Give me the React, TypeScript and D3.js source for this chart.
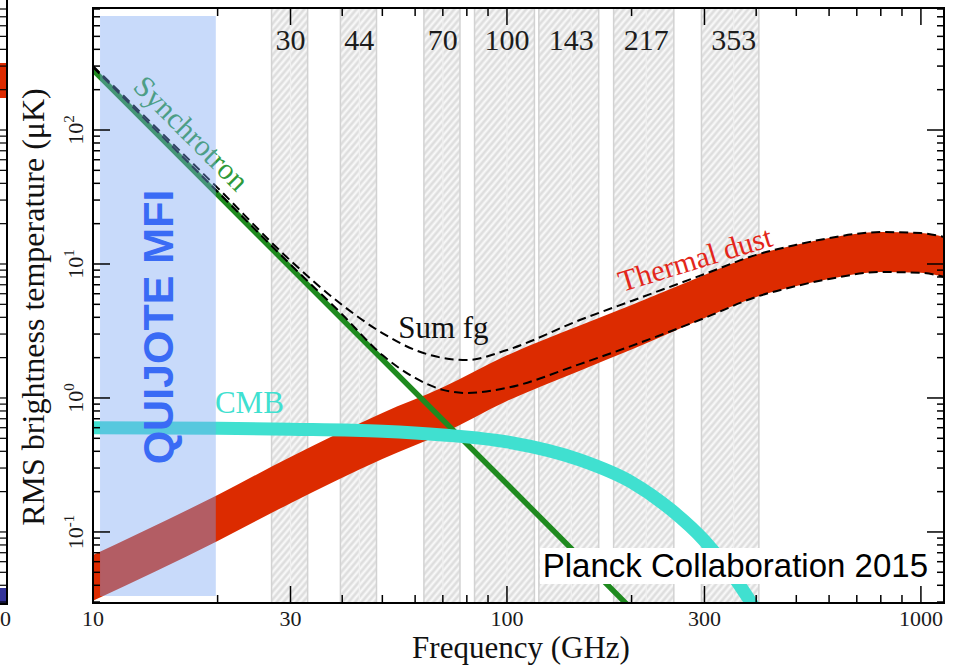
import React from 'react';
import * as d3 from 'd3';

// Planck frequency bands (GHz): centre and band edges
const planckCentres = [30, 44, 70, 100, 143, 217, 353];
const planckLow = [27, 39.6, 63, 83.5, 119.4, 181, 295];
const planckHigh = [33, 48.4, 77, 116.5, 166.6, 253, 406];

// QUIJOTE MFI frequency coverage (GHz)
const quijoteBand = [10.4, 19.8];

// RMS brightness temperature (uK)
const synchFreq = [10, 20, 30, 100, 200];
const synchT = [281, 33, 9.4, 0.228, 0.0266];

const cmbFreq = [10, 20, 30, 50, 70, 100, 150, 200, 250, 300, 350, 400];
const cmbT = [0.6, 0.595, 0.585, 0.565, 0.53, 0.47, 0.345, 0.235, 0.145, 0.086, 0.048, 0.026];

const dustFreq = [10, 20, 30, 50, 70, 100, 150, 200, 300, 400, 500, 600, 800, 1000, 1140];
const dustHigh = [0.0673, 0.189, 0.363, 0.773, 1.2, 2.08, 3.48, 4.94, 8.28, 11.7, 13.9, 15.6, 17.3, 17.0, 15.9];
const dustLow = [0.0306, 0.0857, 0.164, 0.35, 0.545, 0.95, 1.6, 2.3, 3.95, 5.68, 6.85, 7.73, 8.71, 8.6, 8.0];

const sumFreq = [10, 20, 30, 40, 50, 60, 70, 80, 100, 150, 200, 300, 400, 500, 600, 800, 1000, 1140];
const sumHigh = [300, 37, 10.6, 4.94, 3.05, 2.28, 1.99, 1.92, 2.28, 3.82, 5.3, 8.4, 11.7, 13.9, 15.6, 17.3, 17.0, 15.9];
const sumLow = [295, 34.6, 9.9, 4.2, 2.09, 1.41, 1.15, 1.09, 1.19, 1.79, 2.45, 3.95, 5.68, 6.85, 7.73, 8.71, 8.6, 8.0];

// axis labels
const freqLabels = [10, 30, 100, 300, 1000];
const tempExponents = [-1, 0, 1, 2];

const W = 954;
const H = 667;
const frame = { left: 93, right: 944, top: 8, bottom: 603 };
const serif = '"Liberation Serif", "Times New Roman", serif';
const sans = '"Liberation Sans", Arial, Helvetica, sans-serif';

const isDecade = (t: number) => Math.abs(Math.log10(t) - Math.round(Math.log10(t))) < 1e-6;

export default function App() {
  const x = d3.scaleLog().domain([10, 1137]).range([frame.left, frame.right]);
  const y = d3.scaleLog().domain([0.0295, 814]).range([frame.bottom, frame.top]);

  const xt = x.ticks();
  const yt = y.ticks();

  const pts = (fs: number[], vs: number[]) => fs.map((f, i) => [f, vs[i]] as [number, number]);

  const straight = d3.line<[number, number]>().x(d => x(d[0])).y(d => y(d[1]));
  const smooth = d3.line<[number, number]>().x(d => x(d[0])).y(d => y(d[1])).curve(d3.curveMonotoneX);
  const dustArea = d3.area<number>()
    .x(i => x(dustFreq[i]))
    .y0(i => y(dustLow[i]))
    .y1(i => y(dustHigh[i]))
    .curve(d3.curveMonotoneX)(dustFreq.map((_, i) => i));

  const synchAngle = Math.atan2(y(synchT[1]) - y(synchT[0]), x(synchFreq[1]) - x(synchFreq[0])) * 180 / Math.PI;

  return (
    <svg width={W} height={H} style={{ position: 'absolute', left: 0, top: 0, background: '#fff' }}>
      <defs>
        <pattern id="hatch" patternUnits="userSpaceOnUse" width={5} height={10} patternTransform="rotate(40)">
          <rect width={5} height={10} fill="#dedede" />
          <line x1={1.5} y1={0} x2={1.5} y2={10} stroke="#fafafa" strokeWidth={2.2} />
        </pattern>
        <clipPath id="plot">
          <rect x={frame.left} y={frame.top} width={frame.right - frame.left} height={frame.bottom - frame.top} />
        </clipPath>
      </defs>

      {/* piece of the neighbouring panel at the left edge */}
      <g>
        <rect x={0} y={63} width={7} height={35} fill="#dd2a00" />
        <rect x={0} y={588} width={7} height={17} fill="#333399" />
        {yt.map((t, i) => (
          <line key={i} x1={0} x2={7} y1={y(t)} y2={y(t)} stroke="#000" strokeWidth={1.2} />
        ))}
        <line x1={7} x2={7} y1={0} y2={605} stroke="#000" strokeWidth={2} />
        <line x1={0} x2={7} y1={604} y2={604} stroke="#000" strokeWidth={2} />
        <text x={11} y={626} textAnchor="end" fontFamily={serif} fontSize={22} fill="#1a1a1a">0</text>
      </g>

      <g clipPath="url(#plot)">
        {/* Planck bands */}
        {planckCentres.map((c, i) => (
          <g key={c}>
            <rect x={x(planckLow[i])} y={frame.top} width={x(planckHigh[i]) - x(planckLow[i])}
              height={frame.bottom - frame.top} fill="url(#hatch)" />
            <line x1={x(planckLow[i])} x2={x(planckLow[i])} y1={frame.top} y2={frame.bottom} stroke="#d2d2d2" strokeWidth={1.5} />
            <line x1={x(planckHigh[i])} x2={x(planckHigh[i])} y1={frame.top} y2={frame.bottom} stroke="#d2d2d2" strokeWidth={1.5} />
            <line x1={x(c)} x2={x(c)} y1={frame.top} y2={frame.bottom} stroke="#f0f0f0" strokeWidth={1.2} />
          </g>
        ))}

        {/* thermal dust band */}
        <path d={dustArea || ''} fill="#dc2b00" />
        {/* synchrotron */}
        <path d={straight(pts(synchFreq, synchT)) || ''} fill="none" stroke="#1f8a1f" strokeWidth={5.5} />
        {/* CMB */}
        <path d={smooth(pts(cmbFreq, cmbT)) || ''} fill="none" stroke="#40e0d0" strokeWidth={13} />
        {/* sum of foregrounds */}
        <path d={smooth(pts(sumFreq, sumHigh)) || ''} fill="none" stroke="#000" strokeWidth={2} strokeDasharray="9,5" />
        <path d={smooth(pts(sumFreq, sumLow)) || ''} fill="none" stroke="#000" strokeWidth={2} strokeDasharray="9,5" />
      </g>

      {/* band labels */}
      {planckCentres.map(c => (
        <text key={c} x={x(c)} y={50} textAnchor="middle" fontFamily={serif} fontSize={30} fill="#1c1c1c">{c}</text>
      ))}

      {/* curve labels */}
      <text transform={`translate(${x(12.4)},${y(206)}) rotate(${synchAngle})`} fontFamily={serif} fontSize={30} fill="#2f9a3a">Synchrotron</text>
      <text transform={`translate(${x(189.7)},${y(6.18)}) rotate(-17)`} fontFamily={serif} fontSize={30} fill="#e3261a">Thermal dust</text>
      <text x={x(54.6)} y={y(2.81)} fontFamily={serif} fontSize={31} fill="#111">Sum fg</text>
      <text x={x(19.7)} y={y(0.773)} fontFamily={serif} fontSize={31} fill="#40e0d0">CMB</text>

      {/* QUIJOTE MFI coverage */}
      <rect x={x(quijoteBand[0])} y={frame.top + 8} width={x(quijoteBand[1]) - x(quijoteBand[0])}
        height={frame.bottom - frame.top - 15} fill="#79a5f3" fillOpacity={0.41} />
      <text transform="translate(173,327) rotate(-90)" textAnchor="middle" fontFamily={sans} fontWeight="bold"
        fontSize={43} fill="#3a6bf5">QUIJOTE MFI</text>

      {/* ticks */}
      <g stroke="#000" strokeWidth={1.5}>
        {xt.map((t, i) => {
          const len = freqLabels.some(f => Math.abs(f - t) < 1e-6) ? 17 : 8;
          return (
            <g key={i}>
              <line x1={x(t)} x2={x(t)} y1={frame.bottom} y2={frame.bottom - len} />
              <line x1={x(t)} x2={x(t)} y1={frame.top} y2={frame.top + len} />
            </g>
          );
        })}
        {yt.map((t, i) => {
          const len = isDecade(t) ? 17 : 7;
          return (
            <g key={i}>
              <line x1={frame.left} x2={frame.left + len} y1={y(t)} y2={y(t)} />
              <line x1={frame.right} x2={frame.right - len} y1={y(t)} y2={y(t)} />
            </g>
          );
        })}
      </g>
      <rect x={frame.left} y={frame.top} width={frame.right - frame.left} height={frame.bottom - frame.top}
        fill="none" stroke="#000" strokeWidth={2} />

      {/* tick labels */}
      {freqLabels.map(f => (
        <text key={f} x={x(f)} y={626} textAnchor="middle" fontFamily={serif} fontSize={22} fill="#1a1a1a">{f}</text>
      ))}
      {tempExponents.map(e => (
        <text key={e} transform={`translate(83,${y(Math.pow(10, e))}) rotate(-90)`} textAnchor="middle"
          fontFamily={serif} fontSize={22} fill="#1a1a1a">
          10<tspan dy={-9} fontSize={15}>{e}</tspan>
        </text>
      ))}

      {/* axis titles */}
      <text x={521} y={658} textAnchor="middle" fontFamily={serif} fontSize={31} fill="#111">Frequency (GHz)</text>
      <text transform="translate(44,307) rotate(-90)" textAnchor="middle" fontFamily={serif} fontSize={32} fill="#111">
        RMS brightness temperature (μK)
      </text>

      {/* credit */}
      <rect x={540} y={548} width={392} height={36} fill="#fff" />
      <text x={928} y={577} textAnchor="end" fontFamily={sans} fontSize={33} fill="#000">Planck Collaboration 2015</text>
    </svg>
  );
}
